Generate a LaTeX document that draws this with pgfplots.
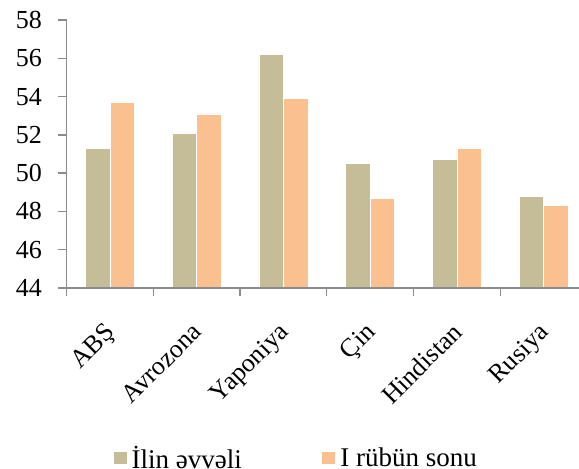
\documentclass[border=0pt]{standalone}
\usepackage{pgfplots}
\pgfplotsset{compat=1.18}
\usepackage{fontspec}
\setmainfont{Liberation Serif}

\definecolor{olivebar}{HTML}{C4BD97}
\definecolor{orangebar}{HTML}{FAC090}
\definecolor{axisgray}{HTML}{8C8C8C}

\pgfplotstableread{
idx start  end
0   51.3   53.7
1   52.1   53.1
2   56.2   53.9
3   50.5   48.7
4   50.7   51.3
5   48.8   48.3
}\pmidata

\begin{document}
\begin{tikzpicture}
\useasboundingbox (-66.7pt,-181pt) rectangle (512.3pt,288pt);
\begin{axis}[
  at={(0,0)}, anchor=south west,
  scale only axis,
  width=520.2pt, height=268pt,
  ybar=0pt, bar width=24.5pt,
  xmin=-0.5, xmax=5.5,
  ymin=44, ymax=58,
  ytick={44,46,...,58},
  xtick={-0.5,0.5,...,5.5},
  x tick label as interval,
  xticklabels={ABŞ,Avrozona,Yaponiya,Çin,Hindistan,Rusiya},
  axis x line*=bottom, axis y line*=left,
  axis on top,
  axis line style={draw=axisgray, line width=1.3pt, -},
  tick align=outside,
  major tick length=8.4pt,
  tick style={draw=axisgray, line width=1.3pt},
  /pgf/number format/assume math mode=true,
  tick label style={font=\fontsize{26}{30}\selectfont, text=black},
  xticklabel style={anchor=north east, xshift=-6pt, yshift=-20pt, rotate=45},
  yticklabel style={xshift=-13pt},
  legend columns=2,
  legend style={draw=none, fill=none, at={(0.4427,-0.634)}, anchor=center,
    font=\fontsize{27}{31}\selectfont,
    /tikz/every even column/.append style={column sep=75pt},
    inner sep=0pt, nodes={inner xsep=4.5pt, inner ysep=0pt}},
  legend image code/.code={\fill[#1] (0pt,-6.5pt) rectangle (14pt,6.5pt);},
  legend cell align=left,
]
\addplot[fill=olivebar, draw=white, line width=0.6pt] table[x=idx, y=start] {\pmidata};
\addplot[fill=orangebar, draw=white, line width=0.6pt] table[x=idx, y=end] {\pmidata};
\legend{İlin əvvəli, I rübün sonu}
\end{axis}
\end{tikzpicture}
\end{document}
